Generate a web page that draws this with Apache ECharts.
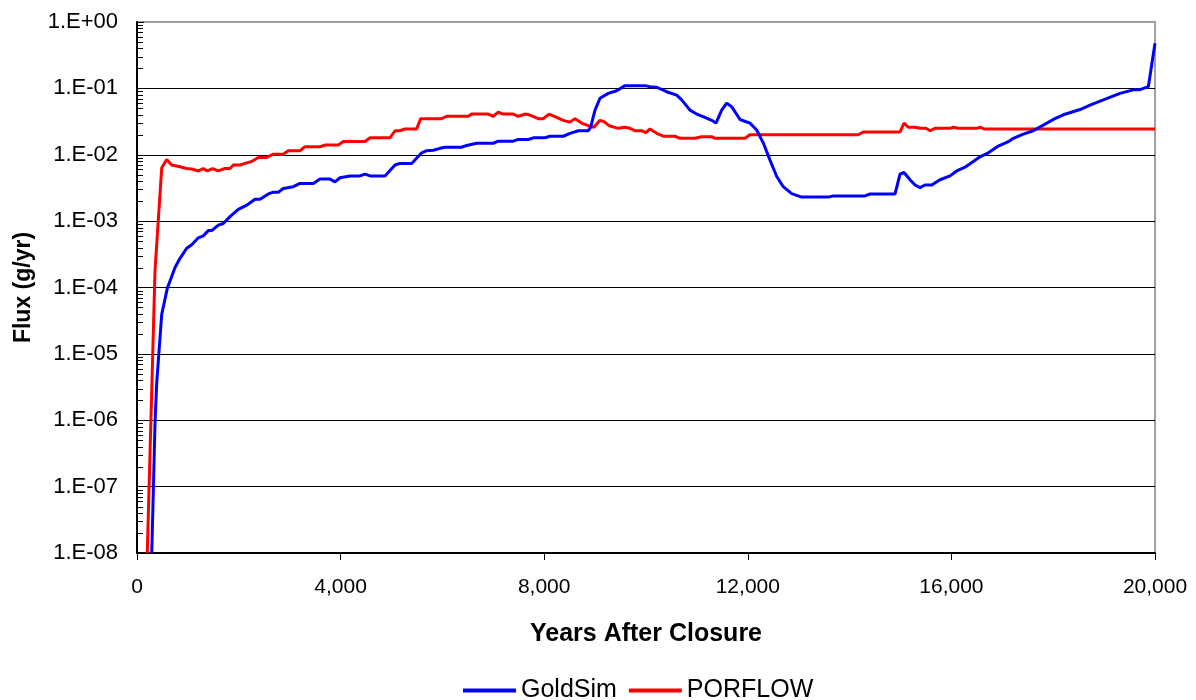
<!DOCTYPE html>
<html>
<head>
<meta charset="utf-8">
<script src="https://cdn.jsdelivr.net/npm/echarts@6/dist/echarts.min.js"></script>
<style>html,body{margin:0;padding:0;background:#fff;}#chart{width:1196px;height:700px;}</style>
</head>
<body>
<div id="chart"></div>
<script>
const goldYears = [290,354,387,485,595,747,845,976,1075,1204,1303,1401,1468,1597,1695,1827,1990,2155,2318,2417,2580,2678,2776,2874,3071,3202,3464,3595,3792,3890,3988,4185,4381,4480,4578,4872,5069,5167,5397,5593,5691,5822,5953,6051,6379,6477,6674,7000,7098,7393,7491,7688,7786,8016,8114,8375,8507,8670,8866,8913,8998,9096,9259,9424,9587,9980,10079,10210,10406,10603,10701,10864,10996,11159,11290,11375,11487,11585,11683,11847,12043,12175,12305,12436,12568,12697,12862,13059,13582,13680,14303,14401,14892,14990,15069,15187,15285,15383,15481,15613,15776,15972,16104,16267,16430,16562,16725,16921,17118,17216,17413,17609,17806,18002,18199,18527,18723,18985,19312,19574,19692,19869,20000];
const goldFlux = [1e-8,9e-7,3.6e-6,3.9e-5,9.7e-5,2.0e-4,2.75e-4,3.9e-4,4.4e-4,5.6e-4,6.0e-4,7.2e-4,7.2e-4,8.7e-4,9.2e-4,1.17e-3,1.5e-3,1.74e-3,2.14e-3,2.14e-3,2.57e-3,2.73e-3,2.73e-3,3.1e-3,3.3e-3,3.7e-3,3.7e-3,4.3e-3,4.3e-3,3.9e-3,4.5e-3,4.8e-3,4.8e-3,5.1e-3,4.8e-3,4.8e-3,7.0e-3,7.4e-3,7.4e-3,1.07e-2,1.15e-2,1.17e-2,1.25e-2,1.3e-2,1.3e-2,1.38e-2,1.49e-2,1.49e-2,1.6e-2,1.6e-2,1.7e-2,1.7e-2,1.8e-2,1.8e-2,1.9e-2,1.9e-2,2.1e-2,2.3e-2,2.3e-2,2.6e-2,4.7e-2,7.1e-2,8.4e-2,9.2e-2,1.1e-1,1.1e-1,1.06e-1,1.04e-1,8.9e-2,7.9e-2,6.7e-2,4.7e-2,4.1e-2,3.66e-2,3.3e-2,3.0e-2,4.7e-2,6.0e-2,5.3e-2,3.4e-2,3.0e-2,2.36e-2,1.5e-2,8.3e-3,4.7e-3,3.3e-3,2.6e-3,2.3e-3,2.3e-3,2.4e-3,2.4e-3,2.56e-3,2.56e-3,5.1e-3,5.4e-3,4.2e-3,3.5e-3,3.2e-3,3.5e-3,3.5e-3,4.2e-3,4.8e-3,5.7e-3,6.5e-3,7.9e-3,9.3e-3,1.07e-2,1.35e-2,1.57e-2,1.77e-2,2.05e-2,2.3e-2,2.8e-2,3.4e-2,4.0e-2,4.8e-2,5.6e-2,6.7e-2,8.4e-2,9.5e-2,9.5e-2,1.06e-1,4.8e-1];
const porYears = [202,354,485,583,681,845,976,1075,1204,1303,1381,1486,1597,1729,1827,1893,2024,2122,2253,2383,2548,2678,2874,2972,3202,3301,3595,3694,3955,4053,4480,4578,4971,5069,5167,5265,5495,5574,5986,6084,6510,6576,6902,7000,7098,7197,7393,7491,7623,7721,7884,7982,8094,8246,8375,8507,8605,8737,8866,8978,9096,9175,9279,9456,9587,9686,9784,9915,10000,10079,10210,10340,10570,10668,10963,11094,11290,11356,11945,12043,14171,14269,14990,15069,15153,15285,15383,15501,15580,15678,15972,16037,16136,16497,16562,16640,20000];
const porFlux = [1e-8,1.8e-4,6.3e-3,8.5e-3,7.0e-3,6.6e-3,6.2e-3,6.1e-3,5.7e-3,6.2e-3,5.7e-3,6.2e-3,5.7e-3,6.2e-3,6.2e-3,7.0e-3,7.0e-3,7.4e-3,7.9e-3,9.1e-3,9.1e-3,1.02e-2,1.02e-2,1.15e-2,1.15e-2,1.32e-2,1.32e-2,1.4e-2,1.4e-2,1.58e-2,1.58e-2,1.8e-2,1.8e-2,2.3e-2,2.3e-2,2.45e-2,2.45e-2,3.5e-2,3.5e-2,3.8e-2,3.8e-2,4.1e-2,4.1e-2,3.8e-2,4.4e-2,4.1e-2,4.1e-2,3.8e-2,4.1e-2,3.96e-2,3.5e-2,3.5e-2,4.1e-2,3.66e-2,3.3e-2,3.1e-2,3.5e-2,3.0e-2,2.74e-2,2.6e-2,3.3e-2,3.15e-2,2.74e-2,2.5e-2,2.6e-2,2.5e-2,2.3e-2,2.3e-2,2.15e-2,2.45e-2,2.1e-2,1.9e-2,1.9e-2,1.77e-2,1.77e-2,1.87e-2,1.87e-2,1.77e-2,1.77e-2,2.0e-2,2.0e-2,2.2e-2,2.2e-2,3.0e-2,2.6e-2,2.6e-2,2.5e-2,2.5e-2,2.3e-2,2.5e-2,2.5e-2,2.6e-2,2.5e-2,2.5e-2,2.6e-2,2.45e-2,2.45e-2];
const seriesNames = ['GoldSim', 'PORFLOW'];
const xTitle = 'Years After Closure';
const yTitle = 'Flux (g/yr)';
const yDecadeExps = [-8,-7,-6,-5,-4,-3,-2,-1,0];

const FONT = 'Arial, "Liberation Sans", sans-serif';
const pairs = (xs, ys) => xs.map((x, i) => [x, ys[i]]);
const minorVals = [];
yDecadeExps.slice(0, -1).forEach(e => { for (let m = 2; m <= 9; m++) minorVals.push([0, m * Math.pow(10, e)]); });

const chart = echarts.init(document.getElementById('chart'), null, {renderer: 'canvas'});
chart.setOption({
  animation: false,
  backgroundColor: '#fff',
  grid: {left: 137, right: 41, top: 22, bottom: 147, show: true, borderColor: '#a0a0a0', borderWidth: 2, backgroundColor: 'transparent'},
  legend: {
    data: seriesNames, left: 458, top: 673, itemWidth: 53, itemHeight: 4, itemGap: 12, icon: 'rect',
    textStyle: {fontFamily: FONT, fontSize: 25, color: '#000'}
  },
  xAxis: {
    type: 'value', min: 0, max: 20000, interval: 4000,
    name: xTitle, nameLocation: 'middle', nameGap: 69,
    nameTextStyle: {fontFamily: FONT, fontSize: 25, fontWeight: 'bold', color: '#000'},
    axisLine: {show: true, lineStyle: {color: '#000', width: 2}},
    axisTick: {show: true, inside: false, length: 7, lineStyle: {color: '#000', width: 1}},
    axisLabel: {fontFamily: FONT, fontSize: 21, color: '#000', margin: 24,
      formatter: v => v.toLocaleString('en-US')},
    splitLine: {show: false}
  },
  yAxis: {
    type: 'log', logBase: 10, min: 1e-8, max: 1,
    name: yTitle, nameLocation: 'middle', nameGap: 102, nameRotate: 90,
    nameTextStyle: {fontFamily: FONT, fontSize: 23, fontWeight: 'bold', color: '#000'},
    axisLine: {show: true, lineStyle: {color: '#000', width: 2}},
    axisTick: {show: true, inside: true, length: 7, lineStyle: {color: '#000', width: 1}},
    axisLabel: {fontFamily: FONT, fontSize: 22, color: '#000', margin: 19,
      formatter: v => { const e = Math.round(Math.log10(v)); return '1.E' + (e < 0 ? '-' : '+') + String(Math.abs(e)).padStart(2, '0'); }},
    splitLine: {show: true, showMinLine: false, showMaxLine: false, lineStyle: {color: '#000', width: 1}},
    minorTick: {show: false}
  },
  series: [
    {name: seriesNames[0], type: 'line', data: pairs(goldYears, goldFlux), symbol: 'none', clip: true,
      lineStyle: {color: '#0000ff', width: 3}, itemStyle: {color: '#0000ff'}, z: 3},
    {name: seriesNames[1], type: 'line', data: pairs(porYears, porFlux), symbol: 'none', clip: true,
      lineStyle: {color: '#ff0000', width: 3}, itemStyle: {color: '#ff0000'}, z: 2},
    {name: 'minorTicks', type: 'custom', data: minorVals, silent: true, clip: false, z: 4,
      encode: {x: 0, y: 1},
      renderItem: (params, api) => {
        const p = api.coord([api.value(0), api.value(1)]);
        return {type: 'line', shape: {x1: p[0], y1: Math.round(p[1]) + 0.5, x2: p[0] + 6, y2: Math.round(p[1]) + 0.5},
          style: {stroke: '#000', lineWidth: 1}};
      }}
  ]
});
</script>
</body>
</html>
